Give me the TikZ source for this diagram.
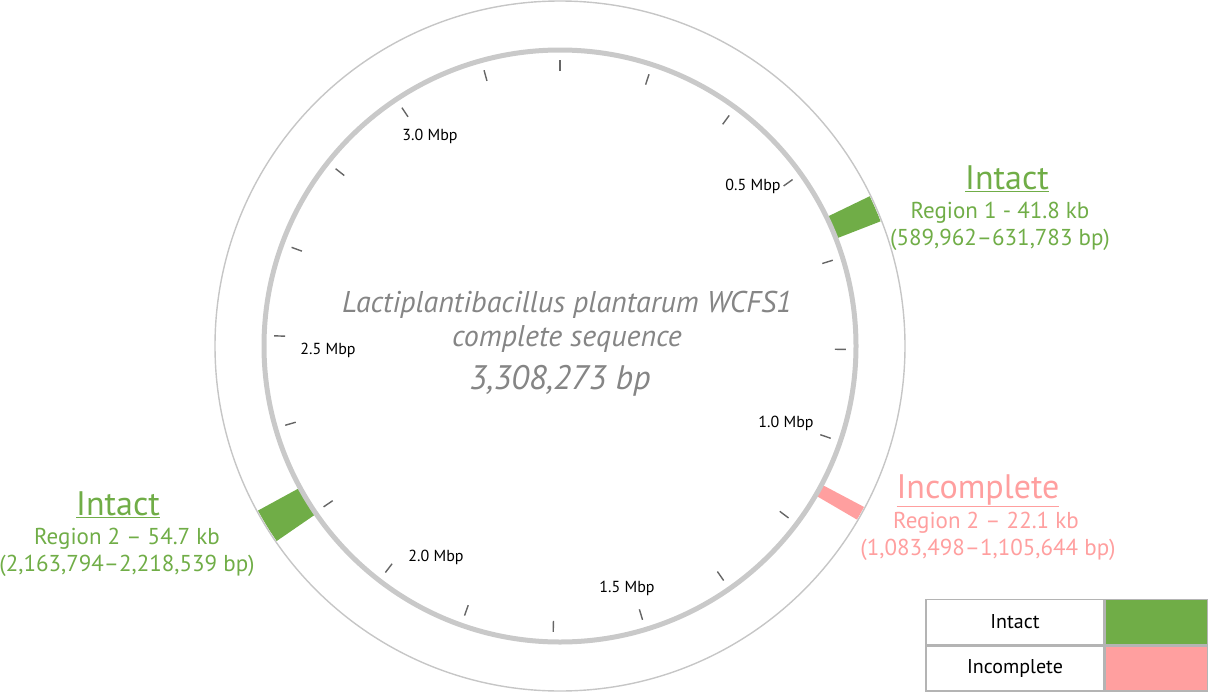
\documentclass[tikz,border=0pt]{standalone}
\usepackage{fontspec}
\setmainfont{PT Sans}
\usetikzlibrary{positioning}
\definecolor{RingGray}{HTML}{C9C9C9}
\definecolor{OuterGray}{HTML}{C6C6C6}
\definecolor{TickGray}{HTML}{666666}
\definecolor{IntactGreen}{HTML}{70AD47}
\definecolor{IncompPink}{HTML}{FF9F9F}
\definecolor{TitleGray}{HTML}{858585}
\definecolor{LegLine}{HTML}{B4B4B4}

% genome length in Mbp
\newcommand{\genomelen}{3.308273}
% annular bar between the two rings, positions in Mbp
\newcommand{\prophage}[3]{%
  \pgfmathsetmacro\ra{90-#1/\genomelen*360}
  \pgfmathsetmacro\rb{90-#2/\genomelen*360}
  \fill[#3] (\ra:298) arc[start angle=\ra, end angle=\rb, radius=298]
    -- (\rb:344) arc[start angle=\rb, end angle=\ra, radius=344] -- cycle;}

\begin{document}
\begin{tikzpicture}[x=1pt, y=-1pt,
  mbp/.style={font=\fontsize{16}{16}\selectfont, inner sep=0pt},
  hittitle/.style={font=\fontsize{34}{34}\selectfont, inner sep=0pt,
    text height=0.72em, text depth=0.12em},
  hitline/.style={font=\fontsize{23}{23}\selectfont, inner sep=0pt,
    text height=0.74em, text depth=0.22em},
  seqtext/.style={font=\fontsize{30}{30}\itshape, text=TitleGray, inner sep=0pt},
  legcell/.style={draw=LegLine, line width=1.5pt, minimum width=178pt,
    minimum height=45pt, inner sep=0pt, font=\fontsize{20}{20}\selectfont},
  swatch/.style={draw=LegLine, line width=1.5pt, minimum width=102pt,
    minimum height=45pt, inner sep=0pt}]
  \useasboundingbox (0,0) rectangle (1218,696);

  % genome map
  \begin{scope}[shift={(560,346)}, x=1pt, y=1pt]
    \prophage{0.589962}{0.631783}{IntactGreen}
    \prophage{1.083498}{1.105644}{IncompPink}
    \prophage{2.163794}{2.218539}{IntactGreen}
    \draw[RingGray, line width=5pt] (0,0) circle[radius=296];
    \draw[OuterGray, line width=1.4pt] (0,0) circle[radius=345];
    \foreach \k in {0,...,19} {
      \pgfmathsetmacro\t{90-\k/6/\genomelen*360}
      \draw[TickGray, line width=1.4pt] (\t:275) -- (\t:286);
    }
  \end{scope}

  % scale labels
  \node[mbp] (m05) at (753,186) {0.5 Mbp};
  \node[mbp] (m10) at (786,423) {1.0 Mbp};
  \node[mbp] (m15) at (627,588) {1.5 Mbp};
  \node[mbp] (m20) at (436,557) {2.0 Mbp};
  \node[mbp] (m25) at (328,350) {2.5 Mbp};
  \node[mbp] (m30) at (430,136) {3.0 Mbp};

  % sequence name
  \node[seqtext] (sname) at (567,305) {Lactiplantibacillus plantarum WCFS1};
  \node[seqtext] (stype) at (567,339) {complete sequence};
  \node[seqtext, font=\fontsize{34}{34}\itshape] (slen) at (560,381) {3,308,273 bp};

  % region labels
  \node[hittitle, text=IntactGreen] (r1t) at (1007,186) {\underline{Intact}};
  \node[hitline, text=IntactGreen] (r1a) at (1000,216) {Region 1 - 41.8 kb};
  \node[hitline, text=IntactGreen] (r1b) at (1000,243) {(589,962–631,783 bp)};

  \node[hittitle, text=IncompPink] (r3t) at (978,495) {\underline{Incomplete}};
  \node[hitline, text=IncompPink] (r3a) at (986,526) {Region 2 – 22.1 kb};
  \node[hitline, text=IncompPink] (r3b) at (988,553) {(1,083,498–1,105,644 bp)};

  \node[hittitle, text=IntactGreen] (r2t) at (118,512) {\underline{Intact}};
  \node[hitline, text=IntactGreen] (r2a) at (127,542) {Region 2 – 54.7 kb};
  \node[hitline, text=IntactGreen] (r2b) at (127,569) {(2,163,794–2,218,539 bp)};

  % legend
  \node[legcell] (lint) at (1015,622) {Intact};
  \node[swatch, fill=IntactGreen, right=0pt of lint] (lgreen) {};
  \node[legcell, below=0pt of lint] (linc) {Incomplete};
  \node[swatch, fill=IncompPink, right=0pt of linc] (lpink) {};
\end{tikzpicture}
\end{document}
